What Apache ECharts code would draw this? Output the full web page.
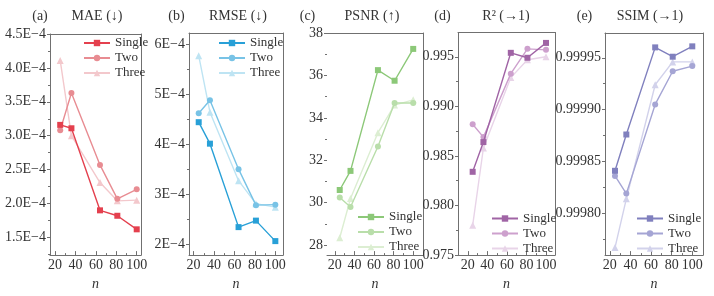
<!DOCTYPE html>
<html><head><meta charset="utf-8">
<script src="https://cdn.jsdelivr.net/npm/echarts@6/dist/echarts.min.js"></script>
<style>html,body{margin:0;padding:0;background:#fff}#c{width:714px;height:296px}</style>
</head><body><div id="c"></div>
<script>
// ---- data ----
const nValues = [25, 36, 64, 81, 100];
const nTicks = [20, 40, 60, 80, 100];
const nMinorTicks = [30, 50, 70, 90];
const legendNames = ['Single', 'Two', 'Three'];

const maeSingle = [3.16e-4, 3.11e-4, 1.90e-4, 1.82e-4, 1.62e-4];
const maeTwo    = [3.08e-4, 3.63e-4, 2.57e-4, 2.07e-4, 2.21e-4];
const maeThree  = [4.11e-4, 3.00e-4, 2.31e-4, 2.04e-4, 2.05e-4];
const maeTicks  = [1.5e-4, 2.0e-4, 2.5e-4, 3.0e-4, 3.5e-4, 4.0e-4, 4.5e-4];
const maeMinor  = [1.25e-4, 1.75e-4, 2.25e-4, 2.75e-4, 3.25e-4, 3.75e-4, 4.25e-4];

const rmseSingle = [4.45e-4, 4.02e-4, 2.35e-4, 2.48e-4, 2.07e-4];
const rmseTwo    = [4.63e-4, 4.89e-4, 3.51e-4, 2.79e-4, 2.80e-4];
const rmseThree  = [5.78e-4, 4.65e-4, 3.28e-4, 2.82e-4, 2.75e-4];
const rmseTicks  = [2e-4, 3e-4, 4e-4, 5e-4, 6e-4];
const rmseMinor  = [2.5e-4, 3.5e-4, 4.5e-4, 5.5e-4];

const psnrSingle = [30.6, 31.5, 36.25, 35.75, 37.25];
const psnrTwo    = [30.25, 29.8, 32.65, 34.7, 34.7];
const psnrThree  = [28.35, 30.2, 33.3, 34.6, 34.85];
const psnrTicks  = [28, 30, 32, 34, 36, 38];
const psnrMinor  = [29, 31, 33, 35, 37];

const r2Single = [0.9834, 0.9864, 0.9954, 0.9949, 0.9964];
const r2Two    = [0.9882, 0.9869, 0.9933, 0.9958, 0.9957];
const r2Three  = [0.9780, 0.9858, 0.9929, 0.9947, 0.9950];
const r2Ticks  = [0.975, 0.980, 0.985, 0.990, 0.995];
const r2Minor  = [0.9775, 0.9825, 0.9875, 0.9925];

const ssimSingle = [0.999841, 0.999876, 0.999960, 0.999951, 0.999961];
const ssimTwo    = [0.999836, 0.999819, 0.999905, 0.999937, 0.999942];
const ssimThree  = [0.999767, 0.999814, 0.999924, 0.999946, 0.999946];
const ssimTicks  = [0.9998, 0.99985, 0.9999, 0.99995];
const ssimMinor  = [0.999775, 0.999825, 0.999875, 0.999925];

// ---- layout / style ----
const FONT = '"Liberation Serif","Times New Roman",serif';
const AX = '#707070';
const TX = '#333333';
const MINUS = '\u2212';

const panels = [
  {key:'a', label:'(a)', title:'MAE (\u2193)', data:[maeSingle, maeTwo, maeThree],
   colors:['#e4404e', '#e88c92', '#f3c8cc'], left:50, right:141, top:34, bottom:260,
   xmin:15, xmax:104.2, ymin:1.24e-4, ymax:4.5e-4, ticks:maeTicks, minor:maeMinor,
   fmt:v => (v*1e4).toFixed(1) + 'E' + MINUS + '4', legLeft:83, legTop:36.5, labX:40, titX:97, leftLine:true},
  {key:'b', label:'(b)', title:'RMSE (\u2193)', data:[rmseSingle, rmseTwo, rmseThree],
   colors:['#28a0d7', '#78c3e6', '#bee4f3'], left:189, right:283, top:33, bottom:260,
   xmin:15.5, xmax:107.5, ymin:1.79e-4, ymax:6.235e-4, ticks:rmseTicks, minor:rmseMinor,
   fmt:v => (v*1e4).toFixed(0) + 'E' + MINUS + '4', legLeft:218, legTop:36.5, labX:176.5, titX:238, leftLine:true},
  {key:'c', label:'(c)', title:'PSNR (\u2191)', data:[psnrSingle, psnrTwo, psnrThree],
   colors:['#8cc878', '#b9deaa', '#dceed2'], left:327, right:423, top:33, bottom:260,
   xmin:12, xmax:110, ymin:27.53, ymax:38, ticks:psnrTicks, minor:psnrMinor,
   fmt:v => String(Math.round(v)), legLeft:357, legTop:210.5, labX:307.5, titX:372, leftLine:false},
  {key:'d', label:'(d)', title:'R\u00b2 (\u21921)', data:[r2Single, r2Two, r2Three],
   colors:['#a064a5', '#cda0cd', '#e8d4e8'], left:458, right:555, top:32.5, bottom:260,
   xmin:10, xmax:109.2, ymin:0.975, ymax:0.99745, ticks:r2Ticks, minor:r2Minor,
   fmt:v => v.toFixed(3), legLeft:491, legTop:212, labX:442.5, titX:506, leftLine:true},
  {key:'e', label:'(e)', title:'SSIM (\u21921)', data:[ssimSingle, ssimTwo, ssimThree],
   colors:['#8080be', '#a5a5d4', '#d2d2eb'], left:605, right:703, top:33, bottom:260,
   xmin:15.3, xmax:110.4, ymin:0.99975972, ymax:0.99997387, ticks:ssimTicks, minor:ssimMinor,
   fmt:v => v.toFixed(5), legLeft:636, legTop:212, labX:584.5, titX:650, leftLine:true}
];
const symbols = ['rect', 'circle', 'triangle'];
const symbolSizes = [6, 6, 7];

const option = {animation:false, backgroundColor:'#ffffff', grid:[], xAxis:[], yAxis:[], series:[], legend:[], graphic:[]};
const lineStyle = {color:AX, width:1};

panels.forEach((p, gi) => {
  option.grid.push({left:p.left, top:p.top, width:p.right - p.left, height:p.bottom - p.top, show:false});
  const xi = option.xAxis.length;
  option.xAxis.push({gridIndex:gi, type:'value', position:'bottom', min:p.xmin, max:p.xmax,
    axisLine:{show:true, onZero:false, lineStyle},
    axisTick:{show:true, inside:true, length:4, customValues:nTicks, lineStyle},
    axisLabel:{show:true, customValues:nTicks, margin:3, fontFamily:FONT, fontSize:14, color:TX},
    splitLine:{show:false},
    name:'n', nameLocation:'middle', nameGap:6,
    nameTextStyle:{fontFamily:FONT, fontStyle:'italic', fontSize:14, color:TX}});
  option.xAxis.push({gridIndex:gi, type:'value', position:'bottom', min:p.xmin, max:p.xmax,
    axisLine:{show:false, onZero:false}, axisTick:{show:true, inside:true, length:2, customValues:nMinorTicks, lineStyle},
    axisLabel:{show:false}, splitLine:{show:false}});
  option.xAxis.push({gridIndex:gi, type:'value', position:'top', min:p.xmin, max:p.xmax,
    axisLine:{show:true, onZero:false, lineStyle}, axisTick:{show:false}, axisLabel:{show:false}, splitLine:{show:false}});

  const yi = option.yAxis.length;
  option.yAxis.push({gridIndex:gi, type:'value', position:'left', min:p.ymin, max:p.ymax,
    axisLine:{show:p.leftLine, onZero:false, lineStyle},
    axisTick:{show:true, inside:false, length:3, customValues:p.ticks, lineStyle},
    axisLabel:{show:true, customValues:p.ticks, margin:4, fontFamily:FONT, fontSize:14, color:TX, formatter:p.fmt},
    splitLine:{show:false}});
  option.yAxis.push({gridIndex:gi, type:'value', position:'left', min:p.ymin, max:p.ymax,
    axisLine:{show:false, onZero:false}, axisTick:{show:true, inside:false, length:2, customValues:p.minor, lineStyle},
    axisLabel:{show:false}, splitLine:{show:false}});
  option.yAxis.push({gridIndex:gi, type:'value', position:'right', min:p.ymin, max:p.ymax,
    axisLine:{show:true, onZero:false, lineStyle}, axisTick:{show:false}, axisLabel:{show:false}, splitLine:{show:false}});

  for (let s = 2; s >= 0; s--) {
    option.series.push({type:'line', name:p.key + '|' + legendNames[s], xAxisIndex:xi, yAxisIndex:yi,
      data:nValues.map((n, i) => [n, p.data[s][i]]),
      symbol:symbols[s], symbolSize:symbolSizes[s], showSymbol:true,
      color:p.colors[s], lineStyle:{color:p.colors[s], width:1.4},
      itemStyle:{color:p.colors[s]}, z:10 - s});
  }
  option.legend.push({data:legendNames.map(n => p.key + '|' + n), formatter:name => name.split('|')[1],
    orient:'vertical', left:p.legLeft, top:p.legTop, itemWidth:26, itemHeight:8, itemGap:2, padding:0,
    selectedMode:false, textStyle:{fontFamily:FONT, fontSize:13, color:TX}});
  option.graphic.push({type:'text', x:p.labX, y:16, silent:true,
    style:{text:p.label, font:'14px ' + FONT, fill:TX, align:'center', textAlign:'center', verticalAlign:'middle', textVerticalAlign:'middle'}});
  option.graphic.push({type:'text', x:p.titX, y:16, silent:true,
    style:{text:p.title, font:'14px ' + FONT, fill:TX, align:'center', textAlign:'center', verticalAlign:'middle', textVerticalAlign:'middle'}});
});

const chart = echarts.init(document.getElementById('c'), null, {renderer:'canvas'});
chart.setOption(option);
</script></body></html>
